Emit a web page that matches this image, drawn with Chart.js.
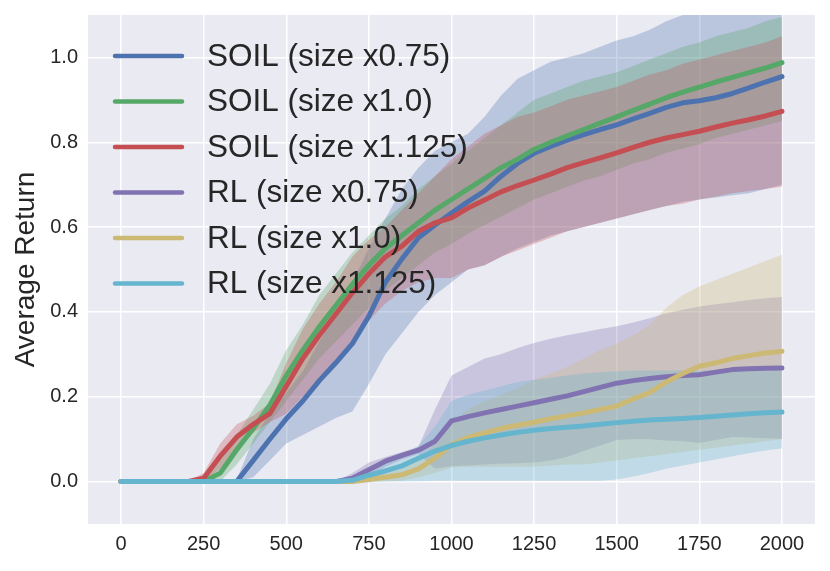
<!DOCTYPE html>
<html>
<head>
<meta charset="utf-8">
<script src="https://cdn.jsdelivr.net/npm/chart.js@4.4.1/dist/chart.umd.min.js"></script>
<style>
  html, body { margin: 0; padding: 0; background: #ffffff; }
  canvas { display: block; }
</style>
</head>
<body>
<canvas id="returnChart" width="830" height="571"></canvas>
<script>
// training steps (x) and axis ticks
const steps = [0, 50, 100, 150, 200, 250, 300, 350, 400, 450, 500, 550, 600, 650, 700, 750, 800, 850, 900, 950,
  1000, 1050, 1100, 1150, 1200, 1250, 1300, 1350, 1400, 1450, 1500, 1550, 1600, 1650, 1700, 1750, 1800, 1850, 1900, 1950, 2000];
const xTicks = [0, 250, 500, 750, 1000, 1250, 1500, 1750, 2000];
const yTicks = [0.0, 0.2, 0.4, 0.6, 0.8, 1.0];

const seriesLabels = ["SOIL (size x0.75)", "SOIL (size x1.0)", "SOIL (size x1.125)",
  "RL (size x0.75)", "RL (size x1.0)", "RL (size x1.125)"];

// SOIL size x0.75
const soil075Mean = [0, 0, 0, 0, 0, 0, 0, 0,
  0.05, 0.10, 0.148, 0.19, 0.238, 0.28, 0.325, 0.39, 0.47, 0.525, 0.575, 0.605, 0.633, 0.66, 0.685, 0.72, 0.75, 0.774,
  0.79, 0.805, 0.818, 0.83, 0.841, 0.855, 0.868, 0.882, 0.893, 0.898, 0.905, 0.915, 0.928, 0.942, 0.955];
const soil075Low = [0, 0, 0, 0, 0, 0, 0, 0,
  0.01, 0.05, 0.09, 0.11, 0.13, 0.15, 0.165, 0.23, 0.30, 0.35, 0.40, 0.44, 0.47, 0.50, 0.51, 0.53, 0.55, 0.565,
  0.58, 0.59, 0.60, 0.61, 0.62, 0.63, 0.64, 0.65, 0.66, 0.665, 0.67, 0.675, 0.68, 0.69, 0.70];
const soil075High = [0, 0, 0, 0, 0, 0, 0, 0.005,
  0.10, 0.16, 0.21, 0.26, 0.33, 0.40, 0.47, 0.55, 0.62, 0.69, 0.74, 0.78, 0.80, 0.82, 0.86, 0.91, 0.95, 0.97,
  0.99, 1.00, 1.01, 1.025, 1.04, 1.05, 1.065, 1.085, 1.10, 1.12, 1.13, 1.14, 1.16, 1.18, 1.20];

// SOIL size x1.0
const soil100Mean = [0, 0, 0, 0, 0, 0,
  0.02, 0.075, 0.125, 0.18, 0.25, 0.31, 0.365, 0.415, 0.465, 0.51, 0.55, 0.58, 0.61, 0.64, 0.665, 0.69, 0.715, 0.74,
  0.76, 0.783, 0.80, 0.815, 0.83, 0.845, 0.86, 0.875, 0.89, 0.905, 0.918, 0.93, 0.942, 0.953, 0.964, 0.975, 0.988];
const soil100Low = [0, 0, 0, 0, 0, 0,
  0.0, 0.04, 0.09, 0.14, 0.19, 0.24, 0.29, 0.33, 0.37, 0.41, 0.45, 0.48, 0.51, 0.54, 0.56, 0.585, 0.605, 0.625,
  0.645, 0.665, 0.68, 0.695, 0.71, 0.72, 0.735, 0.75, 0.76, 0.775, 0.785, 0.795, 0.81, 0.82, 0.83, 0.84, 0.85];
const soil100High = [0, 0, 0, 0, 0, 0.003,
  0.05, 0.11, 0.17, 0.23, 0.31, 0.37, 0.44, 0.49, 0.54, 0.58, 0.62, 0.65, 0.69, 0.72, 0.75, 0.78, 0.81, 0.84,
  0.87, 0.90, 0.915, 0.93, 0.945, 0.955, 0.965, 0.98, 0.995, 1.01, 1.025, 1.035, 1.05, 1.06, 1.07, 1.085, 1.095];

// SOIL size x1.125
const soil1125Mean = [0, 0, 0, 0, 0,
  0.008, 0.06, 0.105, 0.135, 0.16, 0.225, 0.29, 0.345, 0.395, 0.445, 0.49, 0.53, 0.555, 0.59, 0.61, 0.622, 0.645,
  0.664, 0.683, 0.698, 0.711, 0.725, 0.74, 0.752, 0.763, 0.775, 0.788, 0.80, 0.81, 0.818, 0.826, 0.836, 0.845,
  0.853, 0.862, 0.873];
const soil1125Low = [0, 0, 0, 0, 0,
  0.0, 0.03, 0.075, 0.115, 0.14, 0.16, 0.20, 0.235, 0.28, 0.33, 0.38, 0.42, 0.45, 0.47, 0.48, 0.48, 0.50,
  0.51, 0.53, 0.545, 0.56, 0.575, 0.59, 0.60, 0.61, 0.62, 0.63, 0.64, 0.65, 0.655, 0.665, 0.672, 0.68,
  0.685, 0.69, 0.695];
const soil1125High = [0, 0, 0, 0, 0,
  0.02, 0.09, 0.135, 0.155, 0.185, 0.28, 0.36, 0.42, 0.47, 0.53, 0.57, 0.60, 0.64, 0.68, 0.72, 0.76, 0.79,
  0.82, 0.84, 0.86, 0.87, 0.885, 0.90, 0.91, 0.92, 0.93, 0.945, 0.96, 0.97, 0.985, 0.995, 1.005, 1.015,
  1.025, 1.035, 1.05];

// RL size x0.75
const rl075Mean = [0, 0, 0, 0, 0, 0, 0, 0, 0, 0, 0, 0, 0, 0,
  0.008, 0.028, 0.048, 0.062, 0.074, 0.095, 0.143, 0.153, 0.162, 0.17, 0.178, 0.186, 0.194, 0.202, 0.212, 0.222,
  0.232, 0.238, 0.243, 0.247, 0.25, 0.252, 0.258, 0.264, 0.266, 0.267, 0.268];
const rl075Low = [0, 0, 0, 0, 0, 0, 0, 0, 0, 0, 0, 0, 0, 0,
  0.0, 0.012, 0.035, 0.052, 0.065, 0.03, 0.036, 0.038, 0.04, 0.042, 0.043, 0.045, 0.05, 0.058, 0.072, 0.085,
  0.098, 0.1, 0.1, 0.097, 0.095, 0.091, 0.098, 0.105, 0.104, 0.102, 0.101];
const rl075High = [0, 0, 0, 0, 0, 0, 0, 0, 0, 0, 0, 0, 0, 0,
  0.02, 0.045, 0.058, 0.07, 0.082, 0.17, 0.25, 0.27, 0.29, 0.30, 0.315, 0.327, 0.337, 0.345, 0.352, 0.36,
  0.366, 0.375, 0.385, 0.397, 0.405, 0.413, 0.418, 0.423, 0.428, 0.432, 0.435];

// RL size x1.0
const rl100Mean = [0, 0, 0, 0, 0, 0, 0, 0, 0, 0, 0, 0, 0, 0, 0,
  0.005, 0.01, 0.016, 0.03, 0.055, 0.087, 0.104, 0.115, 0.125, 0.133, 0.14, 0.148, 0.155, 0.162, 0.17,
  0.178, 0.195, 0.21, 0.235, 0.255, 0.272, 0.28, 0.29, 0.297, 0.303, 0.307];
const rl100Low = [0, 0, 0, 0, 0, 0, 0, 0, 0, 0, 0, 0, 0, 0, 0,
  0.0, 0.0, 0.002, 0.01, 0.02, 0.033, 0.035, 0.035, 0.035, 0.035, 0.035, 0.038, 0.04, 0.04, 0.045,
  0.05, 0.055, 0.06, 0.065, 0.07, 0.075, 0.08, 0.085, 0.09, 0.095, 0.1];
const rl100High = [0, 0, 0, 0, 0, 0, 0, 0, 0, 0, 0, 0, 0, 0, 0,
  0.01, 0.02, 0.03, 0.05, 0.09, 0.14, 0.17, 0.19, 0.205, 0.22, 0.24, 0.255, 0.27, 0.29, 0.31,
  0.325, 0.345, 0.37, 0.41, 0.44, 0.46, 0.475, 0.49, 0.505, 0.52, 0.535];

// RL size x1.125
const rl1125Mean = [0, 0, 0, 0, 0, 0, 0, 0, 0, 0, 0, 0, 0, 0,
  0.003, 0.015, 0.025, 0.037, 0.055, 0.072, 0.085, 0.095, 0.103, 0.11, 0.116, 0.121, 0.125, 0.128, 0.131, 0.135,
  0.139, 0.142, 0.145, 0.147, 0.149, 0.151, 0.154, 0.157, 0.16, 0.162, 0.164];
const rl1125Low = [0, 0, 0, 0, 0, 0, 0, 0, 0, 0, 0, 0, 0, 0,
  -0.003, -0.002, 0.0, 0.0, 0.001, 0.002, 0.002, 0.002, 0.002, 0.002, 0.002, 0.002, 0.002, 0.002, 0.002, 0.002,
  0.005, 0.012, 0.02, 0.03, 0.038, 0.045, 0.052, 0.06, 0.067, 0.073, 0.078, 0.084];
const rl1125High = [0, 0, 0, 0, 0, 0, 0, 0, 0, 0, 0, 0, 0, 0,
  0.01, 0.03, 0.045, 0.06, 0.085, 0.13, 0.19, 0.205, 0.215, 0.225, 0.235, 0.24, 0.245, 0.25, 0.255, 0.258,
  0.26, 0.262, 0.262, 0.262, 0.262, 0.262, 0.262, 0.262, 0.262, 0.262, 0.262];

// seaborn "deep" colours
const seriesColors = ["#4C72B0", "#55A868", "#C44E52", "#8172B2", "#CCB974", "#64B5CD"];
const means = [soil075Mean, soil100Mean, soil1125Mean, rl075Mean, rl100Mean, rl1125Mean];
const lows = [soil075Low, soil100Low, soil1125Low, rl075Low, rl100Low, rl1125Low];
const highs = [soil075High, soil100High, soil1125High, rl075High, rl100High, rl1125High];

const FONT = "'Liberation Sans', Arial, sans-serif";
const TEXT = "#262626";
Chart.defaults.font.family = FONT;
Chart.defaults.color = TEXT;

function toPoints(values) {
  return steps.map((s, i) => ({ x: s, y: values[i] }));
}

function withAlpha(hex, a) {
  const n = parseInt(hex.slice(1), 16);
  return `rgba(${(n >> 16) & 255}, ${(n >> 8) & 255}, ${n & 255}, ${a})`;
}

const datasets = [];
// shaded bands first (higher order = drawn underneath)
seriesLabels.forEach((label, i) => {
  const lowIndex = datasets.length;
  datasets.push({
    label: label + " low",
    data: toPoints(lows[i]),
    borderWidth: 0,
    borderColor: "transparent",
    pointRadius: 0,
    fill: false,
    order: 30 - i,
  });
  datasets.push({
    label: label + " high",
    data: toPoints(highs[i]),
    borderWidth: 0,
    borderColor: "transparent",
    backgroundColor: withAlpha(seriesColors[i], 0.3),
    pointRadius: 0,
    fill: { target: lowIndex },
    order: 30 - i,
  });
});
// mean lines on top
seriesLabels.forEach((label, i) => {
  datasets.push({
    label: label,
    data: toPoints(means[i]),
    borderColor: seriesColors[i],
    borderWidth: 5,
    borderJoinStyle: "round",
    borderCapStyle: "round",
    pointRadius: 0,
    fill: false,
    order: 10 - i,
  });
});

const plotBackground = {
  id: "plotBackground",
  beforeDraw(chart) {
    const { ctx, chartArea: a } = chart;
    ctx.save();
    ctx.fillStyle = "#ffffff";
    ctx.fillRect(0, 0, chart.width, chart.height);
    ctx.fillStyle = "#EAEAF2";
    ctx.fillRect(a.left, a.top, a.right - a.left, a.bottom - a.top);
    ctx.restore();
  },
};

// legend drawn inside the axes, like matplotlib's upper-left legend
const insideLegend = {
  id: "insideLegend",
  afterDraw(chart) {
    const { ctx, chartArea: a } = chart;
    ctx.save();
    ctx.font = "31.5px " + FONT;
    ctx.textBaseline = "middle";
    ctx.textAlign = "left";
    seriesLabels.forEach((label, i) => {
      const y = a.top + 41 + i * 45.5;
      ctx.strokeStyle = seriesColors[i];
      ctx.lineWidth = 4.5;
      ctx.lineCap = "round";
      ctx.beginPath();
      ctx.moveTo(a.left + 27, y);
      ctx.lineTo(a.left + 94, y);
      ctx.stroke();
      ctx.fillStyle = TEXT;
      ctx.fillText(label, a.left + 119, y + 1);
    });
    ctx.restore();
  },
};

new Chart(document.getElementById("returnChart"), {
  type: "line",
  data: { datasets: datasets },
  options: {
    responsive: false,
    animation: false,
    layout: { padding: { top: 15, right: 15, left: 0, bottom: 0 } },
    plugins: {
      legend: { display: false },
      tooltip: { enabled: false },
    },
    scales: {
      x: {
        type: "linear",
        min: -100,
        max: 2100,
        afterBuildTicks: (scale) => { scale.ticks = xTicks.map((v) => ({ value: v })); },
        afterFit: (scale) => {
          scale.height = 47;
          scale.paddingLeft = 0;
          scale.paddingRight = 0;
        },
        grid: { color: "#ffffff", lineWidth: 1.5, drawTicks: false },
        border: { display: false },
        ticks: {
          padding: 8,
          color: TEXT,
          font: { size: 20 },
          maxRotation: 0,
          callback: (v) => String(v),
        },
      },
      y: {
        type: "linear",
        min: -0.1,
        max: 1.1,
        afterBuildTicks: (scale) => { scale.ticks = yTicks.map((v) => ({ value: v })); },
        afterFit: (scale) => {
          scale.width = 88;
          scale.paddingTop = 0;
          scale.paddingBottom = 0;
        },
        grid: { color: "#ffffff", lineWidth: 1.5, drawTicks: false },
        border: { display: false },
        ticks: {
          padding: 10,
          color: TEXT,
          font: { size: 20 },
          callback: (v) => Number(v).toFixed(1),
        },
        title: {
          display: true,
          text: "Average Return",
          color: TEXT,
          font: { size: 28 },
          padding: { top: 9, bottom: 0 },
        },
      },
    },
  },
  plugins: [plotBackground, insideLegend],
});
</script>
</body>
</html>
